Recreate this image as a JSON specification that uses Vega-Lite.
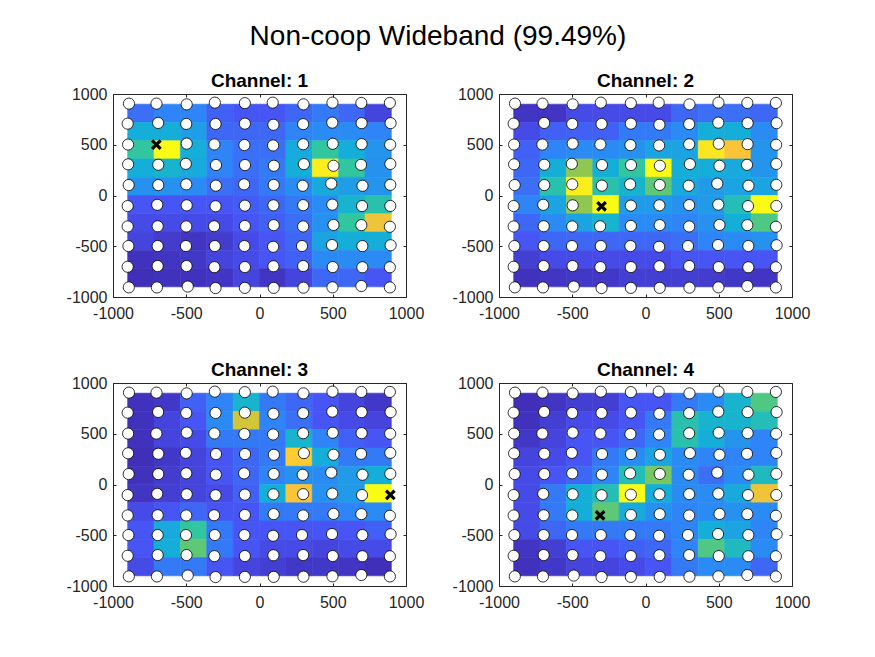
{
  "$schema": "https://vega.github.io/schema/vega-lite/v6.json",
  "autosize": {"type": "none"},
  "padding": {"left": 113, "top": 94, "right": 762, "bottom": 563},
  "background": "white",
  "title": {
    "text": "Non-coop Wideband (99.49%)",
    "fontSize": 28,
    "fontWeight": "normal",
    "font": "Liberation Sans",
    "color": "#000000",
    "anchor": "middle",
    "frame": "bounds",
    "baseline": "alphabetic",
    "offset": 0,
    "dy": 1
  },
  "datasets": {
    "cols": [
      {"c": 0, "x0": -900, "x1": -720}, {"c": 1, "x0": -720, "x1": -540},
      {"c": 2, "x0": -540, "x1": -360}, {"c": 3, "x0": -360, "x1": -180},
      {"c": 4, "x0": -180, "x1": 0}, {"c": 5, "x0": 0, "x1": 180},
      {"c": 6, "x0": 180, "x1": 360}, {"c": 7, "x0": 360, "x1": 540},
      {"c": 8, "x0": 540, "x1": 720}, {"c": 9, "x0": 720, "x1": 900}
    ],
    "rows": [
      {"r": 0, "y0": 720, "y1": 900}, {"r": 1, "y0": 540, "y1": 720},
      {"r": 2, "y0": 360, "y1": 540}, {"r": 3, "y0": 180, "y1": 360},
      {"r": 4, "y0": 0, "y1": 180}, {"r": 5, "y0": -180, "y1": 0},
      {"r": 6, "y0": -360, "y1": -180}, {"r": 7, "y0": -540, "y1": -360},
      {"r": 8, "y0": -720, "y1": -540}, {"r": 9, "y0": -900, "y1": -720}
    ],
    "grid": [
      {"ch": 1, "r": 0, "c": [0,1,2,3,4,5,6,7,8,9], "v": [0.22,0.28,0.28,0.18,0.15,0.15,0.2,0.25,0.2,0.1]},
      {"ch": 1, "r": 1, "c": [0,1,2,3,4,5,6,7,8,9], "v": [0.42,0.42,0.36,0.2,0.2,0.2,0.28,0.3,0.3,0.28]},
      {"ch": 1, "r": 2, "c": [0,1,2,3,4,5,6,7,8,9], "v": [0.55,1.0,0.42,0.28,0.22,0.22,0.4,0.55,0.42,0.33]},
      {"ch": 1, "r": 3, "c": [0,1,2,3,4,5,6,7,8,9], "v": [0.42,0.45,0.4,0.28,0.22,0.25,0.42,0.97,0.55,0.32]},
      {"ch": 1, "r": 4, "c": [0,1,2,3,4,5,6,7,8,9], "v": [0.32,0.32,0.3,0.22,0.2,0.25,0.3,0.4,0.36,0.33]},
      {"ch": 1, "r": 5, "c": [0,1,2,3,4,5,6,7,8,9], "v": [0.15,0.15,0.15,0.15,0.17,0.2,0.25,0.3,0.45,0.52]},
      {"ch": 1, "r": 6, "c": [0,1,2,3,4,5,6,7,8,9], "v": [0.12,0.12,0.12,0.12,0.15,0.18,0.22,0.32,0.55,0.83]},
      {"ch": 1, "r": 7, "c": [0,1,2,3,4,5,6,7,8,9], "v": [0.1,0.07,0.05,0.07,0.12,0.15,0.2,0.38,0.42,0.42]},
      {"ch": 1, "r": 8, "c": [0,1,2,3,4,5,6,7,8,9], "v": [0.04,0.05,0.06,0.1,0.12,0.15,0.18,0.3,0.3,0.3]},
      {"ch": 1, "r": 9, "c": [0,1,2,3,4,5,6,7,8,9], "v": [0.03,0.04,0.04,0.05,0.1,0.05,0.1,0.2,0.2,0.15]},
      {"ch": 2, "r": 0, "c": [0,1,2,3,4,5,6,7,8,9], "v": [0.05,0.05,0.12,0.12,0.12,0.12,0.2,0.22,0.22,0.2]},
      {"ch": 2, "r": 1, "c": [0,1,2,3,4,5,6,7,8,9], "v": [0.12,0.18,0.18,0.18,0.25,0.25,0.3,0.42,0.42,0.3]},
      {"ch": 2, "r": 2, "c": [0,1,2,3,4,5,6,7,8,9], "v": [0.18,0.28,0.3,0.3,0.32,0.38,0.38,0.95,0.85,0.33]},
      {"ch": 2, "r": 3, "c": [0,1,2,3,4,5,6,7,8,9], "v": [0.2,0.42,0.68,0.42,0.55,1.0,0.42,0.42,0.4,0.33]},
      {"ch": 2, "r": 4, "c": [0,1,2,3,4,5,6,7,8,9], "v": [0.22,0.52,0.97,0.52,0.45,0.62,0.4,0.35,0.38,0.38]},
      {"ch": 2, "r": 5, "c": [0,1,2,3,4,5,6,7,8,9], "v": [0.28,0.38,0.68,1.0,0.35,0.35,0.32,0.35,0.5,1.0]},
      {"ch": 2, "r": 6, "c": [0,1,2,3,4,5,6,7,8,9], "v": [0.2,0.3,0.38,0.45,0.3,0.3,0.28,0.32,0.42,0.6]},
      {"ch": 2, "r": 7, "c": [0,1,2,3,4,5,6,7,8,9], "v": [0.15,0.2,0.2,0.2,0.2,0.2,0.22,0.28,0.3,0.32]},
      {"ch": 2, "r": 8, "c": [0,1,2,3,4,5,6,7,8,9], "v": [0.08,0.12,0.12,0.12,0.12,0.12,0.15,0.15,0.15,0.15]},
      {"ch": 2, "r": 9, "c": [0,1,2,3,4,5,6,7,8,9], "v": [0.04,0.05,0.06,0.06,0.08,0.08,0.08,0.07,0.06,0.05]},
      {"ch": 3, "r": 0, "c": [0,1,2,3,4,5,6,7,8,9], "v": [0.04,0.06,0.18,0.28,0.45,0.25,0.2,0.15,0.1,0.06]},
      {"ch": 3, "r": 1, "c": [0,1,2,3,4,5,6,7,8,9], "v": [0.04,0.1,0.15,0.3,0.78,0.28,0.22,0.15,0.12,0.1]},
      {"ch": 3, "r": 2, "c": [0,1,2,3,4,5,6,7,8,9], "v": [0.04,0.1,0.12,0.25,0.25,0.25,0.45,0.28,0.18,0.15]},
      {"ch": 3, "r": 3, "c": [0,1,2,3,4,5,6,7,8,9], "v": [0.03,0.06,0.1,0.15,0.2,0.25,0.88,0.42,0.25,0.25]},
      {"ch": 3, "r": 4, "c": [0,1,2,3,4,5,6,7,8,9], "v": [0.04,0.07,0.1,0.15,0.2,0.28,0.32,0.3,0.35,0.42]},
      {"ch": 3, "r": 5, "c": [0,1,2,3,4,5,6,7,8,9], "v": [0.05,0.08,0.1,0.12,0.18,0.42,0.85,0.32,0.35,1.0]},
      {"ch": 3, "r": 6, "c": [0,1,2,3,4,5,6,7,8,9], "v": [0.12,0.15,0.2,0.15,0.15,0.25,0.25,0.25,0.28,0.3]},
      {"ch": 3, "r": 7, "c": [0,1,2,3,4,5,6,7,8,9], "v": [0.15,0.4,0.55,0.25,0.15,0.15,0.15,0.15,0.15,0.18]},
      {"ch": 3, "r": 8, "c": [0,1,2,3,4,5,6,7,8,9], "v": [0.15,0.42,0.62,0.25,0.15,0.12,0.12,0.1,0.12,0.12]},
      {"ch": 3, "r": 9, "c": [0,1,2,3,4,5,6,7,8,9], "v": [0.12,0.25,0.25,0.15,0.1,0.08,0.06,0.06,0.05,0.03]},
      {"ch": 4, "r": 0, "c": [0,1,2,3,4,5,6,7,8,9], "v": [0.03,0.05,0.08,0.08,0.15,0.15,0.25,0.3,0.45,0.6]},
      {"ch": 4, "r": 1, "c": [0,1,2,3,4,5,6,7,8,9], "v": [0.04,0.08,0.12,0.12,0.15,0.25,0.52,0.45,0.45,0.5]},
      {"ch": 4, "r": 2, "c": [0,1,2,3,4,5,6,7,8,9], "v": [0.06,0.1,0.15,0.15,0.2,0.28,0.52,0.42,0.33,0.28]},
      {"ch": 4, "r": 3, "c": [0,1,2,3,4,5,6,7,8,9], "v": [0.1,0.12,0.15,0.25,0.3,0.38,0.3,0.28,0.28,0.28]},
      {"ch": 4, "r": 4, "c": [0,1,2,3,4,5,6,7,8,9], "v": [0.12,0.15,0.2,0.28,0.5,0.65,0.3,0.22,0.3,0.48]},
      {"ch": 4, "r": 5, "c": [0,1,2,3,4,5,6,7,8,9], "v": [0.12,0.25,0.42,0.5,1.0,0.42,0.3,0.3,0.4,0.83]},
      {"ch": 4, "r": 6, "c": [0,1,2,3,4,5,6,7,8,9], "v": [0.12,0.25,0.42,0.62,0.4,0.32,0.28,0.3,0.32,0.3]},
      {"ch": 4, "r": 7, "c": [0,1,2,3,4,5,6,7,8,9], "v": [0.12,0.2,0.25,0.25,0.25,0.25,0.28,0.42,0.38,0.28]},
      {"ch": 4, "r": 8, "c": [0,1,2,3,4,5,6,7,8,9], "v": [0.05,0.08,0.15,0.15,0.18,0.2,0.28,0.6,0.48,0.3]},
      {"ch": 4, "r": 9, "c": [0,1,2,3,4,5,6,7,8,9], "v": [0.04,0.06,0.1,0.1,0.12,0.15,0.25,0.3,0.3,0.2]}
    ],
    "nodes": [
      {"n": 0, "x": -891, "y": 905}, {"n": 1, "x": -703, "y": 905}, {"n": 2, "x": -497, "y": 898}, {"n": 3, "x": -305, "y": 915}, {"n": 4, "x": -100, "y": 910},
      {"n": 5, "x": 90, "y": 915}, {"n": 6, "x": 300, "y": 898}, {"n": 7, "x": 498, "y": 915}, {"n": 8, "x": 695, "y": 912}, {"n": 9, "x": 890, "y": 912},
      {"n": 10, "x": -900, "y": 708}, {"n": 11, "x": -692, "y": 715}, {"n": 12, "x": -500, "y": 705}, {"n": 13, "x": -300, "y": 705}, {"n": 14, "x": -100, "y": 708},
      {"n": 15, "x": 95, "y": 697}, {"n": 16, "x": 298, "y": 703}, {"n": 17, "x": 497, "y": 718}, {"n": 18, "x": 697, "y": 713}, {"n": 19, "x": 895, "y": 713},
      {"n": 20, "x": -897, "y": 502}, {"n": 21, "x": -704, "y": 502}, {"n": 22, "x": -497, "y": 511}, {"n": 23, "x": -308, "y": 503}, {"n": 24, "x": -103, "y": 497},
      {"n": 25, "x": 93, "y": 493}, {"n": 26, "x": 298, "y": 505}, {"n": 27, "x": 500, "y": 510}, {"n": 28, "x": 697, "y": 506}, {"n": 29, "x": 892, "y": 500},
      {"n": 30, "x": -897, "y": 307}, {"n": 31, "x": -691, "y": 303}, {"n": 32, "x": -503, "y": 312}, {"n": 33, "x": -297, "y": 300}, {"n": 34, "x": -99, "y": 300},
      {"n": 35, "x": 98, "y": 293}, {"n": 36, "x": 303, "y": 309}, {"n": 37, "x": 505, "y": 293}, {"n": 38, "x": 693, "y": 302}, {"n": 39, "x": 893, "y": 311},
      {"n": 40, "x": -893, "y": 103}, {"n": 41, "x": -691, "y": 103}, {"n": 42, "x": -500, "y": 110}, {"n": 43, "x": -298, "y": 97}, {"n": 44, "x": -105, "y": 110},
      {"n": 45, "x": 97, "y": 104}, {"n": 46, "x": 295, "y": 96}, {"n": 47, "x": 490, "y": 117}, {"n": 48, "x": 703, "y": 96}, {"n": 49, "x": 893, "y": 105},
      {"n": 50, "x": -900, "y": -104}, {"n": 51, "x": -698, "y": -92}, {"n": 52, "x": -497, "y": -97}, {"n": 53, "x": -300, "y": -106}, {"n": 54, "x": -100, "y": -100},
      {"n": 55, "x": 95, "y": -97}, {"n": 56, "x": 298, "y": -95}, {"n": 57, "x": 497, "y": -90}, {"n": 58, "x": 700, "y": -104}, {"n": 59, "x": 893, "y": -103},
      {"n": 60, "x": -900, "y": -305}, {"n": 61, "x": -695, "y": -303}, {"n": 62, "x": -500, "y": -305}, {"n": 63, "x": -310, "y": -303}, {"n": 64, "x": -100, "y": -300},
      {"n": 65, "x": 97, "y": -292}, {"n": 66, "x": 298, "y": -305}, {"n": 67, "x": 505, "y": -290}, {"n": 68, "x": 695, "y": -292}, {"n": 69, "x": 890, "y": -308},
      {"n": 70, "x": -895, "y": -498}, {"n": 71, "x": -695, "y": -498}, {"n": 72, "x": -502, "y": -498}, {"n": 73, "x": -305, "y": -498}, {"n": 74, "x": -103, "y": -498},
      {"n": 75, "x": 93, "y": -505}, {"n": 76, "x": 290, "y": -498}, {"n": 77, "x": 495, "y": -488}, {"n": 78, "x": 702, "y": -498}, {"n": 79, "x": 895, "y": -490},
      {"n": 80, "x": -900, "y": -702}, {"n": 81, "x": -695, "y": -695}, {"n": 82, "x": -498, "y": -695}, {"n": 83, "x": -308, "y": -706}, {"n": 84, "x": -100, "y": -705},
      {"n": 85, "x": 95, "y": -697}, {"n": 86, "x": 298, "y": -695}, {"n": 87, "x": 500, "y": -705}, {"n": 88, "x": 702, "y": -707}, {"n": 89, "x": 890, "y": -707},
      {"n": 90, "x": -892, "y": -905}, {"n": 91, "x": -700, "y": -906}, {"n": 92, "x": -490, "y": -897}, {"n": 93, "x": -300, "y": -912}, {"n": 94, "x": -100, "y": -910},
      {"n": 95, "x": 97, "y": -910}, {"n": 96, "x": 300, "y": -908}, {"n": 97, "x": 498, "y": -905}, {"n": 98, "x": 695, "y": -892}, {"n": 99, "x": 890, "y": -906}
    ],
    "tx": [
      {"ch": 1, "n": 21}, {"ch": 2, "n": 53}, {"ch": 3, "n": 59}, {"ch": 4, "n": 63}
    ]
  },
  "bounds": "flush",
  "columns": 2,
  "spacing": {"row": 86, "column": 93},
  "concat": [
    {
      "title": {"text": "Channel: 1"},
      "width": 293, "height": 203,
      "layer": [
        {
          "data": {"name": "grid"},
          "transform": [
            {"filter": "datum.ch == 1"},
            {"flatten": ["c", "v"]},
            {"lookup": "c", "from": {"data": {"name": "cols"}, "key": "c", "fields": ["x0", "x1"]}},
            {"lookup": "r", "from": {"data": {"name": "rows"}, "key": "r", "fields": ["y0", "y1"]}}
          ],
          "mark": {"type": "rect", "strokeWidth": 0.6},
          "encoding": {
            "x": {"field": "x0", "type": "quantitative", "scale": {"domain": [-1000, 1000], "nice": false, "zero": false}, "axis": {"values": [-1000, -500, 0, 500, 1000], "title": null, "labelPadding": 11}},
            "x2": {"field": "x1"},
            "y": {"field": "y0", "type": "quantitative", "scale": {"domain": [-1000, 1000], "nice": false, "zero": false}, "axis": {"values": [-1000, -500, 0, 500, 1000], "title": null, "labelPadding": 9}},
            "y2": {"field": "y1"},
            "color": {"field": "v", "type": "quantitative", "scale": {"domain": [0, 0.142857, 0.285714, 0.428571, 0.571429, 0.714286, 0.857143, 1], "range": ["#3e26a8", "#4852f4", "#2e87f7", "#12b1d6", "#37c897", "#abc739", "#fec338", "#f9fb15"], "interpolate": "rgb"}, "legend": null},
            "stroke": {"field": "v", "type": "quantitative", "scale": {"domain": [0, 0.142857, 0.285714, 0.428571, 0.571429, 0.714286, 0.857143, 1], "range": ["#3e26a8", "#4852f4", "#2e87f7", "#12b1d6", "#37c897", "#abc739", "#fec338", "#f9fb15"], "interpolate": "rgb"}, "legend": null}
          }
        },
        {
          "data": {"name": "nodes"},
          "transform": [{"filter": "datum.n != 21"}],
          "mark": {"type": "point", "shape": "circle", "filled": true, "fill": "white", "stroke": "black", "strokeWidth": 0.8, "size": 125, "opacity": 1},
          "encoding": {
            "x": {"field": "x", "type": "quantitative", "axis": {"orient": "top", "values": [-1000, -500, 0, 500, 1000], "labels": false, "title": null}},
            "y": {"field": "y", "type": "quantitative", "axis": {"orient": "right", "values": [-1000, -500, 0, 500, 1000], "labels": false, "title": null}}
          }
        },
        {
          "data": {"name": "tx"},
          "transform": [
            {"filter": "datum.ch == 1"},
            {"lookup": "n", "from": {"data": {"name": "nodes"}, "key": "n", "fields": ["x", "y"]}}
          ],
          "mark": {"type": "point", "shape": "M-1,-1L1,1M-1,1L1,-1", "filled": false, "stroke": "black", "strokeWidth": 3.2, "size": 72, "opacity": 1},
          "encoding": {
            "x": {"field": "x", "type": "quantitative", "axis": null},
            "y": {"field": "y", "type": "quantitative", "axis": null}
          }
        }
      ],
      "resolve": {"axis": {"x": "independent", "y": "independent"}}
    },
    {
      "title": {"text": "Channel: 2"},
      "width": 293, "height": 203,
      "layer": [
        {
          "data": {"name": "grid"},
          "transform": [
            {"filter": "datum.ch == 2"},
            {"flatten": ["c", "v"]},
            {"lookup": "c", "from": {"data": {"name": "cols"}, "key": "c", "fields": ["x0", "x1"]}},
            {"lookup": "r", "from": {"data": {"name": "rows"}, "key": "r", "fields": ["y0", "y1"]}}
          ],
          "mark": {"type": "rect", "strokeWidth": 0.6},
          "encoding": {
            "x": {"field": "x0", "type": "quantitative", "scale": {"domain": [-1000, 1000], "nice": false, "zero": false}, "axis": {"values": [-1000, -500, 0, 500, 1000], "title": null, "labelPadding": 11}},
            "x2": {"field": "x1"},
            "y": {"field": "y0", "type": "quantitative", "scale": {"domain": [-1000, 1000], "nice": false, "zero": false}, "axis": {"values": [-1000, -500, 0, 500, 1000], "title": null, "labelPadding": 9}},
            "y2": {"field": "y1"},
            "color": {"field": "v", "type": "quantitative", "scale": {"domain": [0, 0.142857, 0.285714, 0.428571, 0.571429, 0.714286, 0.857143, 1], "range": ["#3e26a8", "#4852f4", "#2e87f7", "#12b1d6", "#37c897", "#abc739", "#fec338", "#f9fb15"], "interpolate": "rgb"}, "legend": null},
            "stroke": {"field": "v", "type": "quantitative", "scale": {"domain": [0, 0.142857, 0.285714, 0.428571, 0.571429, 0.714286, 0.857143, 1], "range": ["#3e26a8", "#4852f4", "#2e87f7", "#12b1d6", "#37c897", "#abc739", "#fec338", "#f9fb15"], "interpolate": "rgb"}, "legend": null}
          }
        },
        {
          "data": {"name": "nodes"},
          "transform": [{"filter": "datum.n != 53"}],
          "mark": {"type": "point", "shape": "circle", "filled": true, "fill": "white", "stroke": "black", "strokeWidth": 0.8, "size": 125, "opacity": 1},
          "encoding": {
            "x": {"field": "x", "type": "quantitative", "axis": {"orient": "top", "values": [-1000, -500, 0, 500, 1000], "labels": false, "title": null}},
            "y": {"field": "y", "type": "quantitative", "axis": {"orient": "right", "values": [-1000, -500, 0, 500, 1000], "labels": false, "title": null}}
          }
        },
        {
          "data": {"name": "tx"},
          "transform": [
            {"filter": "datum.ch == 2"},
            {"lookup": "n", "from": {"data": {"name": "nodes"}, "key": "n", "fields": ["x", "y"]}}
          ],
          "mark": {"type": "point", "shape": "M-1,-1L1,1M-1,1L1,-1", "filled": false, "stroke": "black", "strokeWidth": 3.2, "size": 72, "opacity": 1},
          "encoding": {
            "x": {"field": "x", "type": "quantitative", "axis": null},
            "y": {"field": "y", "type": "quantitative", "axis": null}
          }
        }
      ],
      "resolve": {"axis": {"x": "independent", "y": "independent"}}
    },
    {
      "title": {"text": "Channel: 3"},
      "width": 293, "height": 203,
      "layer": [
        {
          "data": {"name": "grid"},
          "transform": [
            {"filter": "datum.ch == 3"},
            {"flatten": ["c", "v"]},
            {"lookup": "c", "from": {"data": {"name": "cols"}, "key": "c", "fields": ["x0", "x1"]}},
            {"lookup": "r", "from": {"data": {"name": "rows"}, "key": "r", "fields": ["y0", "y1"]}}
          ],
          "mark": {"type": "rect", "strokeWidth": 0.6},
          "encoding": {
            "x": {"field": "x0", "type": "quantitative", "scale": {"domain": [-1000, 1000], "nice": false, "zero": false}, "axis": {"values": [-1000, -500, 0, 500, 1000], "title": null, "labelPadding": 11}},
            "x2": {"field": "x1"},
            "y": {"field": "y0", "type": "quantitative", "scale": {"domain": [-1000, 1000], "nice": false, "zero": false}, "axis": {"values": [-1000, -500, 0, 500, 1000], "title": null, "labelPadding": 9}},
            "y2": {"field": "y1"},
            "color": {"field": "v", "type": "quantitative", "scale": {"domain": [0, 0.142857, 0.285714, 0.428571, 0.571429, 0.714286, 0.857143, 1], "range": ["#3e26a8", "#4852f4", "#2e87f7", "#12b1d6", "#37c897", "#abc739", "#fec338", "#f9fb15"], "interpolate": "rgb"}, "legend": null},
            "stroke": {"field": "v", "type": "quantitative", "scale": {"domain": [0, 0.142857, 0.285714, 0.428571, 0.571429, 0.714286, 0.857143, 1], "range": ["#3e26a8", "#4852f4", "#2e87f7", "#12b1d6", "#37c897", "#abc739", "#fec338", "#f9fb15"], "interpolate": "rgb"}, "legend": null}
          }
        },
        {
          "data": {"name": "nodes"},
          "transform": [{"filter": "datum.n != 59"}],
          "mark": {"type": "point", "shape": "circle", "filled": true, "fill": "white", "stroke": "black", "strokeWidth": 0.8, "size": 125, "opacity": 1},
          "encoding": {
            "x": {"field": "x", "type": "quantitative", "axis": {"orient": "top", "values": [-1000, -500, 0, 500, 1000], "labels": false, "title": null}},
            "y": {"field": "y", "type": "quantitative", "axis": {"orient": "right", "values": [-1000, -500, 0, 500, 1000], "labels": false, "title": null}}
          }
        },
        {
          "data": {"name": "tx"},
          "transform": [
            {"filter": "datum.ch == 3"},
            {"lookup": "n", "from": {"data": {"name": "nodes"}, "key": "n", "fields": ["x", "y"]}}
          ],
          "mark": {"type": "point", "shape": "M-1,-1L1,1M-1,1L1,-1", "filled": false, "stroke": "black", "strokeWidth": 3.2, "size": 72, "opacity": 1},
          "encoding": {
            "x": {"field": "x", "type": "quantitative", "axis": null},
            "y": {"field": "y", "type": "quantitative", "axis": null}
          }
        }
      ],
      "resolve": {"axis": {"x": "independent", "y": "independent"}}
    },
    {
      "title": {"text": "Channel: 4"},
      "width": 293, "height": 203,
      "layer": [
        {
          "data": {"name": "grid"},
          "transform": [
            {"filter": "datum.ch == 4"},
            {"flatten": ["c", "v"]},
            {"lookup": "c", "from": {"data": {"name": "cols"}, "key": "c", "fields": ["x0", "x1"]}},
            {"lookup": "r", "from": {"data": {"name": "rows"}, "key": "r", "fields": ["y0", "y1"]}}
          ],
          "mark": {"type": "rect", "strokeWidth": 0.6},
          "encoding": {
            "x": {"field": "x0", "type": "quantitative", "scale": {"domain": [-1000, 1000], "nice": false, "zero": false}, "axis": {"values": [-1000, -500, 0, 500, 1000], "title": null, "labelPadding": 11}},
            "x2": {"field": "x1"},
            "y": {"field": "y0", "type": "quantitative", "scale": {"domain": [-1000, 1000], "nice": false, "zero": false}, "axis": {"values": [-1000, -500, 0, 500, 1000], "title": null, "labelPadding": 9}},
            "y2": {"field": "y1"},
            "color": {"field": "v", "type": "quantitative", "scale": {"domain": [0, 0.142857, 0.285714, 0.428571, 0.571429, 0.714286, 0.857143, 1], "range": ["#3e26a8", "#4852f4", "#2e87f7", "#12b1d6", "#37c897", "#abc739", "#fec338", "#f9fb15"], "interpolate": "rgb"}, "legend": null},
            "stroke": {"field": "v", "type": "quantitative", "scale": {"domain": [0, 0.142857, 0.285714, 0.428571, 0.571429, 0.714286, 0.857143, 1], "range": ["#3e26a8", "#4852f4", "#2e87f7", "#12b1d6", "#37c897", "#abc739", "#fec338", "#f9fb15"], "interpolate": "rgb"}, "legend": null}
          }
        },
        {
          "data": {"name": "nodes"},
          "transform": [{"filter": "datum.n != 63"}],
          "mark": {"type": "point", "shape": "circle", "filled": true, "fill": "white", "stroke": "black", "strokeWidth": 0.8, "size": 125, "opacity": 1},
          "encoding": {
            "x": {"field": "x", "type": "quantitative", "axis": {"orient": "top", "values": [-1000, -500, 0, 500, 1000], "labels": false, "title": null}},
            "y": {"field": "y", "type": "quantitative", "axis": {"orient": "right", "values": [-1000, -500, 0, 500, 1000], "labels": false, "title": null}}
          }
        },
        {
          "data": {"name": "tx"},
          "transform": [
            {"filter": "datum.ch == 4"},
            {"lookup": "n", "from": {"data": {"name": "nodes"}, "key": "n", "fields": ["x", "y"]}}
          ],
          "mark": {"type": "point", "shape": "M-1,-1L1,1M-1,1L1,-1", "filled": false, "stroke": "black", "strokeWidth": 3.2, "size": 72, "opacity": 1},
          "encoding": {
            "x": {"field": "x", "type": "quantitative", "axis": null},
            "y": {"field": "y", "type": "quantitative", "axis": null}
          }
        }
      ],
      "resolve": {"axis": {"x": "independent", "y": "independent"}}
    }
  ],
  "config": {
    "font": "Liberation Sans",
    "view": {"stroke": "#262626", "strokeWidth": 1},
    "axis": {
      "labelFont": "Liberation Sans",
      "labelFontSize": 16,
      "labelColor": "#262626",
      "labelExpr": "'' + datum.value",
      "tickColor": "#262626",
      "tickSize": -3,
      "tickWidth": 1,
      "domain": false,
      "grid": false,
      "labelFlush": false,
      "labelOverlap": false
    },
    "title": {
      "font": "Liberation Sans",
      "fontSize": 19,
      "fontWeight": "bold",
      "color": "#000000",
      "anchor": "middle",
      "baseline": "alphabetic",
      "offset": 7,
      "dy": 12
    }
  }
}
